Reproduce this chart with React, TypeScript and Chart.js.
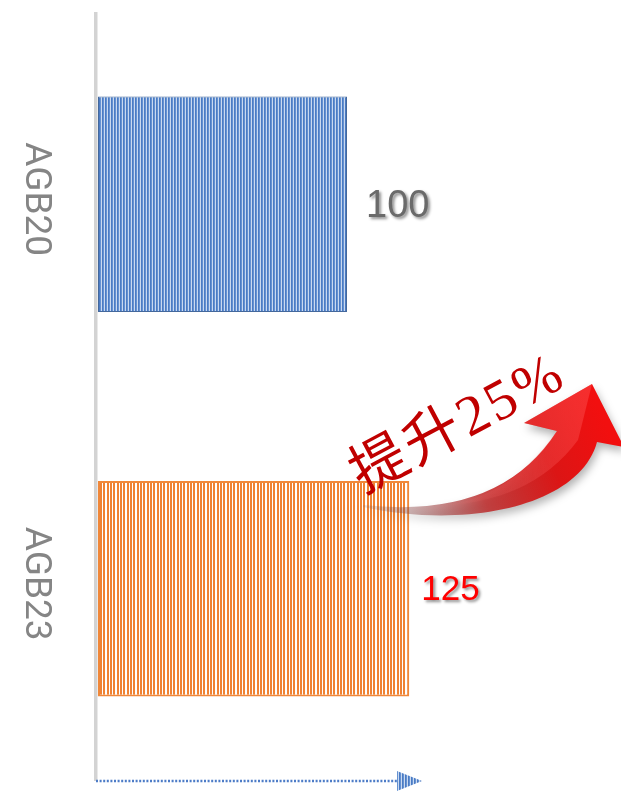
import React, { useEffect, useRef } from "react";
import { Chart, registerables } from "chart.js";

Chart.register(...registerables);

// ---- data ----
const categories = ["AGB20", "AGB23"];
const values = [100, 125];
const valueLabels = ["100", "125"];
const increaseLabel = "提升25%";

// ---- styles ----
const blueStripes = ["#4b7bc3", "#6592d2", "#c9d9f0"];
const O = "#ef8233";
const W = "#ffffff";
const orangeStripes = [O, O, W, O, O, W, W, O, O, W];
const barBorders = ["#44689c", "#f0883a"];
const labelColors = ["#6a6a6a", "#ff0000"];
const labelFonts = ["38px 'Liberation Sans', Arial, sans-serif", "35px 'Liberation Sans', Arial, sans-serif"];
const labelGaps = [19, 12];

function makePattern(ctx: CanvasRenderingContext2D, colors: string[]) {
  const c = document.createElement("canvas");
  c.width = colors.length;
  c.height = 4;
  const g = c.getContext("2d")!;
  colors.forEach((col, i) => {
    g.fillStyle = col;
    g.fillRect(i, 0, 1, 4);
  });
  return ctx.createPattern(c, "repeat")!;
}

const decorPlugin = {
  id: "decor",
  beforeDatasetsDraw(chart: any) {
    const { ctx, chartArea: a } = chart;
    ctx.save();
    ctx.fillStyle = "#d3d3d3";
    ctx.fillRect(a.left - 4, a.top, 3.5, a.bottom - a.top);
    ctx.restore();
  },
  afterDatasetsDraw(chart: any) {
    const { ctx, chartArea: a } = chart;
    const meta = chart.getDatasetMeta(0);
    const yScale = chart.scales.y;

    // category labels, rotated
    ctx.save();
    ctx.fillStyle = "#858585";
    ctx.font = "37px Roboto, 'Liberation Sans', sans-serif";
    ctx.textAlign = "center";
    ctx.textBaseline = "middle";
    categories.forEach((c, i) => {
      const y = yScale.getPixelForValue(i) - 5;
      ctx.save();
      ctx.translate(35, y);
      ctx.rotate(Math.PI / 2);
      ctx.fillText(c, 0, 0);
      ctx.restore();
    });
    ctx.restore();

    // value labels
    meta.data.forEach((el: any, i: number) => {
      ctx.save();
      ctx.font = labelFonts[i];
      ctx.fillStyle = labelColors[i];
      ctx.textAlign = "left";
      ctx.textBaseline = "middle";
      ctx.shadowColor = "rgba(0,0,0,0.45)";
      ctx.shadowBlur = 3;
      ctx.shadowOffsetX = 2;
      ctx.shadowOffsetY = 2;
      ctx.fillText(valueLabels[i], el.x + labelGaps[i], el.y + 2);
      ctx.restore();
    });

    // bottom dotted arrow
    const by = a.bottom;
    ctx.save();
    ctx.strokeStyle = "#4d7cc7";
    ctx.lineWidth = 2.5;
    ctx.setLineDash([2, 1.6]);
    ctx.beginPath();
    ctx.moveTo(a.left - 2, by);
    ctx.lineTo(a.left + 299, by);
    ctx.stroke();
    ctx.setLineDash([]);
    ctx.fillStyle = makePattern(ctx, blueStripes);
    ctx.beginPath();
    ctx.moveTo(a.left + 299, by - 10);
    ctx.lineTo(a.left + 299, by + 10);
    ctx.lineTo(a.left + 324, by);
    ctx.closePath();
    ctx.fill();
    ctx.restore();

    // red curved arrow
    const arrowPath = () => {
      ctx.beginPath();
      ctx.moveTo(363, 505);
      ctx.quadraticCurveTo(500, 520, 557, 431);
      ctx.lineTo(524, 423);
      ctx.lineTo(592, 384);
      ctx.lineTo(624, 447);
      ctx.lineTo(597, 442);
      ctx.bezierCurveTo(580, 505, 470, 530, 363, 507);
      ctx.closePath();
    };
    ctx.save();
    const grad = ctx.createLinearGradient(363, 506, 600, 410);
    grad.addColorStop(0, "rgba(110,90,90,0.15)");
    grad.addColorStop(0.2, "rgba(140,60,60,0.45)");
    grad.addColorStop(0.45, "rgba(190,30,30,0.8)");
    grad.addColorStop(0.75, "#dc1515");
    grad.addColorStop(1, "#f20f0f");
    ctx.fillStyle = grad;
    ctx.shadowColor = "rgba(0,0,0,0.3)";
    ctx.shadowBlur = 9;
    ctx.shadowOffsetX = 2;
    ctx.shadowOffsetY = 5;
    arrowPath();
    ctx.fill();
    ctx.restore();

    // lighter upper surface of shaft
    ctx.save();
    const hl = ctx.createLinearGradient(430, 505, 590, 420);
    hl.addColorStop(0, "rgba(255,120,120,0)");
    hl.addColorStop(1, "rgba(255,90,90,0.4)");
    ctx.fillStyle = hl;
    ctx.beginPath();
    ctx.moveTo(430, 506);
    ctx.quadraticCurveTo(505, 505, 557, 431);
    ctx.lineTo(524, 423);
    ctx.lineTo(592, 384);
    ctx.lineTo(578, 440);
    ctx.quadraticCurveTo(530, 505, 430, 506);
    ctx.closePath();
    ctx.fill();
    ctx.restore();

    // increase text
    ctx.save();
    ctx.translate(459, 426);
    ctx.rotate((-28 * Math.PI) / 180);
    ctx.fillStyle = "#c00000";
    ctx.font = "57px 'Liberation Serif', 'Noto Sans CJK SC', serif";
    (ctx as any).letterSpacing = "3px";
    ctx.textAlign = "center";
    ctx.textBaseline = "middle";
    ctx.fillText(increaseLabel, 0, 0);
    ctx.restore();
  },
};

export default function App() {
  const ref = useRef<HTMLCanvasElement | null>(null);

  useEffect(() => {
    const canvas = ref.current!;
    const ctx = canvas.getContext("2d")!;
    const fills = [makePattern(ctx, blueStripes), makePattern(ctx, orangeStripes)];
    const chart = new Chart(canvas, {
      type: "bar",
      data: {
        labels: categories,
        datasets: [
          {
            data: values,
            backgroundColor: fills as any,
            borderColor: barBorders,
            borderWidth: [1, 2] as any,
            borderSkipped: false,
            categoryPercentage: 1,
            barPercentage: 0.56,
          },
        ],
      },
      options: {
        indexAxis: "y",
        animation: false,
        responsive: true,
        maintainAspectRatio: false,
        layout: { padding: { left: 98, right: 25, top: 12, bottom: 10 } },
        scales: {
          x: { display: false, min: 0, max: 200 },
          y: { display: false },
        },
        plugins: {
          legend: { display: false },
          tooltip: { enabled: false },
        },
      },
      plugins: [decorPlugin],
    });
    return () => chart.destroy();
  }, []);

  return (
    <div style={{ position: "absolute", left: 0, top: 0, width: 621, height: 791, background: "#fff" }}>
      <canvas ref={ref} />
    </div>
  );
}
